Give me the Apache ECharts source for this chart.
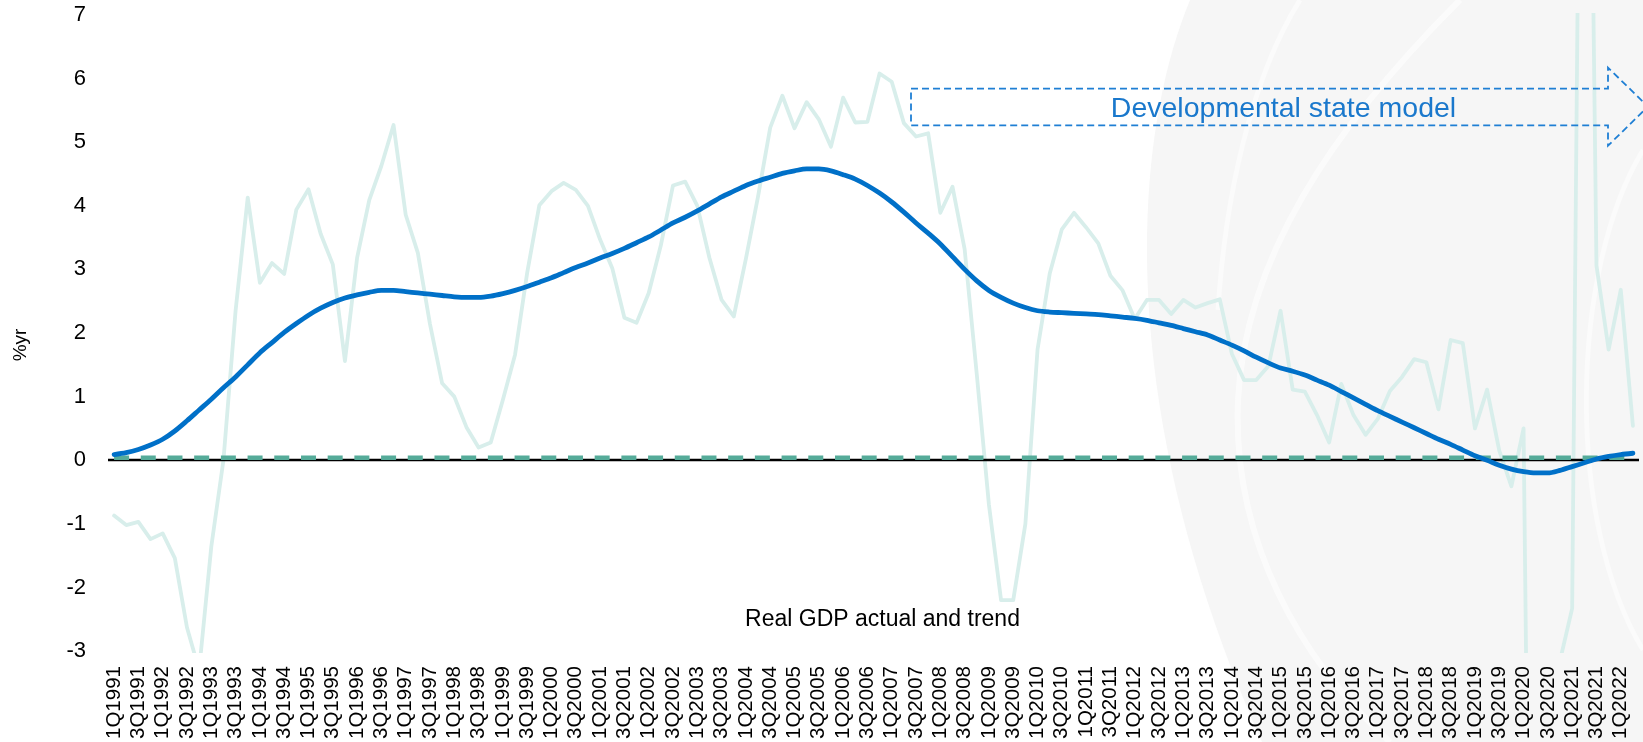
<!DOCTYPE html>
<html>
<head>
<meta charset="utf-8">
<script src="https://cdn.jsdelivr.net/npm/echarts@6/dist/echarts.min.js"></script>
<style>
  html, body { margin: 0; padding: 0; background: #ffffff; }
  #chart { width: 1643px; height: 742px; }
</style>
</head>
<body>
<div id="chart"></div>
<script>
// ---------- DATA ----------
const categories = [
  '1Q1991','2Q1991','3Q1991','4Q1991','1Q1992','2Q1992','3Q1992','4Q1992',
  '1Q1993','2Q1993','3Q1993','4Q1993','1Q1994','2Q1994','3Q1994','4Q1994',
  '1Q1995','2Q1995','3Q1995','4Q1995','1Q1996','2Q1996','3Q1996','4Q1996',
  '1Q1997','2Q1997','3Q1997','4Q1997','1Q1998','2Q1998','3Q1998','4Q1998',
  '1Q1999','2Q1999','3Q1999','4Q1999','1Q2000','2Q2000','3Q2000','4Q2000',
  '1Q2001','2Q2001','3Q2001','4Q2001','1Q2002','2Q2002','3Q2002','4Q2002',
  '1Q2003','2Q2003','3Q2003','4Q2003','1Q2004','2Q2004','3Q2004','4Q2004',
  '1Q2005','2Q2005','3Q2005','4Q2005','1Q2006','2Q2006','3Q2006','4Q2006',
  '1Q2007','2Q2007','3Q2007','4Q2007','1Q2008','2Q2008','3Q2008','4Q2008',
  '1Q2009','2Q2009','3Q2009','4Q2009','1Q2010','2Q2010','3Q2010','4Q2010',
  '1Q2011','2Q2011','3Q2011','4Q2011','1Q2012','2Q2012','3Q2012','4Q2012',
  '1Q2013','2Q2013','3Q2013','4Q2013','1Q2014','2Q2014','3Q2014','4Q2014',
  '1Q2015','2Q2015','3Q2015','4Q2015','1Q2016','2Q2016','3Q2016','4Q2016',
  '1Q2017','2Q2017','3Q2017','4Q2017','1Q2018','2Q2018','3Q2018','4Q2018',
  '1Q2019','2Q2019','3Q2019','4Q2019','1Q2020','2Q2020','3Q2020','4Q2020',
  '1Q2021','2Q2021','3Q2021','4Q2021','1Q2022','2Q2022'
];

// Real GDP growth, actual (%yr)
const actualGDP = [
  -0.87, -1.02, -0.97, -1.24, -1.15, -1.54, -2.63, -3.30,
  -1.36,  0.00,  2.35,  4.13,  2.79,  3.10,  2.93,  3.94,
   4.26,  3.56,  3.08,  1.56,  3.18,  4.09,  4.63,  5.27,
   3.86,  3.26,  2.14,  1.21,  1.00,  0.52,  0.20,  0.28,
   0.95,  1.66,  2.95,  4.01,  4.23,  4.36,  4.25,  4.00,
   3.47,  3.02,  2.24,  2.16,  2.63,  3.38,  4.32,  4.38,
   4.00,  3.18,  2.52,  2.26,  3.17,  4.15,  5.23,  5.73,
   5.22,  5.63,  5.36,  4.93,  5.70,  5.31,  5.32,  6.08,
   5.95,  5.30,  5.09,  5.14,  3.89,  4.30,  3.32,  1.35,
  -0.70, -2.20, -2.20, -1.00,  1.74,  2.93,  3.63,  3.89,
   3.66,  3.41,  2.90,  2.67,  2.22,  2.52,  2.52,  2.30,
   2.52,  2.40,  2.47,  2.53,  1.67,  1.26,  1.26,  1.48,
   2.35,  1.11,  1.08,  0.71,  0.28,  1.20,  0.71,  0.40,
   0.65,  1.09,  1.31,  1.59,  1.54,  0.80,  1.89,  1.84,
   0.50,  1.11,  0.15, -0.41,  0.50, -17.0, -6.00, -3.15,
  -2.33, 19.00,  3.06,  1.74,  2.68,  0.54
];

// Real GDP growth, trend (%yr)
const trendGDP = [
  0.09, 0.12, 0.17, 0.24, 0.33, 0.46, 0.62, 0.79,
  0.96, 1.14, 1.31, 1.50, 1.69, 1.85, 2.01, 2.15,
  2.28, 2.39, 2.48, 2.55, 2.60, 2.64, 2.67, 2.67,
  2.65, 2.63, 2.61, 2.59, 2.57, 2.56, 2.56, 2.58,
  2.62, 2.67, 2.73, 2.80, 2.87, 2.95, 3.03, 3.10,
  3.18, 3.25, 3.33, 3.42, 3.51, 3.62, 3.73, 3.82,
  3.92, 4.03, 4.14, 4.23, 4.32, 4.39, 4.45, 4.51,
  4.55, 4.58, 4.58, 4.55, 4.49, 4.42, 4.32, 4.20,
  4.06, 3.90, 3.73, 3.57, 3.40, 3.20, 3.00, 2.82,
  2.67, 2.56, 2.47, 2.40, 2.35, 2.33, 2.32, 2.31,
  2.30, 2.29, 2.27, 2.25, 2.23, 2.20, 2.16, 2.12,
  2.07, 2.02, 1.97, 1.89, 1.81, 1.72, 1.62, 1.53,
  1.45, 1.40, 1.34, 1.26, 1.18, 1.08, 0.98, 0.88,
  0.78, 0.69, 0.60, 0.51, 0.42, 0.33, 0.25, 0.16,
  0.07, 0.00, -0.08, -0.14, -0.18, -0.20, -0.20, -0.16,
  -0.10, -0.04, 0.02, 0.06, 0.09, 0.11
];

// dashed reference line: from first to last quarter
const referenceLine = [['1Q1991', 0.04], ['2Q2022', 0.04]];
const zeroLevel = 0;          // black zero line

const yTicks = { min: -3, max: 7, step: 1 };

const chartTitle = 'Real GDP actual and trend';
const yAxisTitle = '%yr';
const annotationText = 'Developmental state model';

// ---------- DECORATION HELPERS ----------
function bezierPoints(p0, p1, p2, p3, n) {
  const pts = [];
  for (let k = 0; k <= n; k++) {
    const t = k / n, u = 1 - t;
    pts.push([
      u*u*u*p0[0] + 3*u*u*t*p1[0] + 3*u*t*t*p2[0] + t*t*t*p3[0],
      u*u*u*p0[1] + 3*u*u*t*p1[1] + 3*u*t*t*p2[1] + t*t*t*p3[1]
    ]);
  }
  return pts;
}
function curve(x1, y1, cx1, cy1, cx2, cy2, x2, y2, w, op) {
  return {
    type: 'bezierCurve', z: -9, silent: true,
    shape: { x1: x1, y1: y1, cpx1: cx1, cpy1: cy1, cpx2: cx2, cpy2: cy2, x2: x2, y2: y2 },
    style: { fill: null, stroke: '#ffffff', lineWidth: w, opacity: op }
  };
}
const watermarkEdge = bezierPoints([1190, 0], [1128, 150], [1118, 420], [1262, 742], 40)
  .concat([[1643, 742], [1643, 0]]);

// ---------- CHART ----------
const FONT = '"Liberation Sans", Arial, Helvetica, sans-serif';
const chart = echarts.init(document.getElementById('chart'), null, { renderer: 'canvas' });

const option = {
  animation: false,
  backgroundColor: '#ffffff',
  grid: { left: 108, right: 4, top: 15, bottom: 89, containLabel: false },
  xAxis: {
    type: 'category',
    data: categories,
    boundaryGap: true,
    axisLine: { show: false, onZero: false },
    axisTick: { show: false },
    splitLine: { show: false },
    axisLabel: {
      interval: 1,
      rotate: 90,
      margin: 15,
      color: '#000000',
      fontFamily: FONT,
      fontSize: 20.5
    }
  },
  yAxis: {
    type: 'value',
    min: yTicks.min,
    max: yTicks.max,
    interval: yTicks.step,
    axisLine: { show: false },
    axisTick: { show: false },
    splitLine: { show: false },
    axisLabel: {
      margin: 22,
      color: '#000000',
      fontFamily: FONT,
      fontSize: 22
    }
  },
  series: [
    {
      name: 'Actual',
      type: 'line',
      data: actualGDP,
      showSymbol: false,
      symbol: 'none',
      clip: true,
      z: 2,
      lineStyle: { color: '#d8eeeb', width: 3.8, join: 'round', cap: 'round' }
    },
    {
      name: 'Zero',
      type: 'line',
      data: [],
      z: 3,
      markLine: {
        silent: true,
        symbol: ['none', 'none'],
        z: 3,
        label: { show: false },
        lineStyle: { color: '#000000', width: 2.4, type: 'solid' },
        data: [{ yAxis: zeroLevel }]
      }
    },
    {
      name: 'Reference',
      type: 'line',
      data: referenceLine,
      showSymbol: false,
      symbol: 'none',
      z: 6,
      lineStyle: { color: '#55ab99', width: 4.5, type: [15, 11.7], cap: 'butt' }
    },
    {
      name: 'Trend',
      type: 'line',
      data: trendGDP,
      showSymbol: false,
      symbol: 'none',
      smooth: 0.3,
      z: 10,
      lineStyle: { color: '#0070c8', width: 4.8, cap: 'round' }
    }
  ],
  graphic: [
    // faint background watermark
    {
      type: 'polygon', z: -10, silent: true,
      shape: { points: watermarkEdge },
      style: { fill: '#f6f6f6', stroke: null }
    },
    curve(1460, 0, 1330, 130, 1245, 260, 1238, 400, 6, 0.6),
    curve(1238, 400, 1232, 540, 1300, 660, 1390, 742, 6, 0.6),
    curve(1300, 0, 1250, 80, 1225, 200, 1218, 310, 5, 0.5),
    curve(1643, 150, 1570, 270, 1565, 520, 1643, 650, 5, 0.5),
    // annotation arrow (dashed outline)
    {
      type: 'polygon', z: 20, silent: true,
      shape: { points: [[911, 88.7], [1608, 88.7], [1608, 67.6], [1648, 106.6], [1608, 145.7], [1608, 125.4], [911, 125.4]] },
      style: { fill: null, stroke: '#1f7fd4', lineWidth: 1.8, lineDash: [7, 4] }
    },
    {
      type: 'text', z: 21, silent: true,
      x: 1283.5, y: 109.5,
      style: {
        text: annotationText,
        fill: '#1a78cc', font: '28.5px ' + FONT,
        align: 'center', verticalAlign: 'middle'
      }
    },
    // chart title (below the plot)
    {
      type: 'text', z: 21, silent: true,
      x: 882.5, y: 620,
      style: {
        text: chartTitle,
        fill: '#000000', font: '23px ' + FONT,
        align: 'center', verticalAlign: 'middle'
      }
    },
    // y-axis title
    {
      type: 'text', z: 21, silent: true,
      x: 20.5, y: 345, rotation: Math.PI / 2,
      style: {
        text: yAxisTitle,
        fill: '#000000', font: '19px ' + FONT,
        align: 'center', verticalAlign: 'middle'
      }
    }
  ]
};

chart.setOption(option);
</script>
</body>
</html>
